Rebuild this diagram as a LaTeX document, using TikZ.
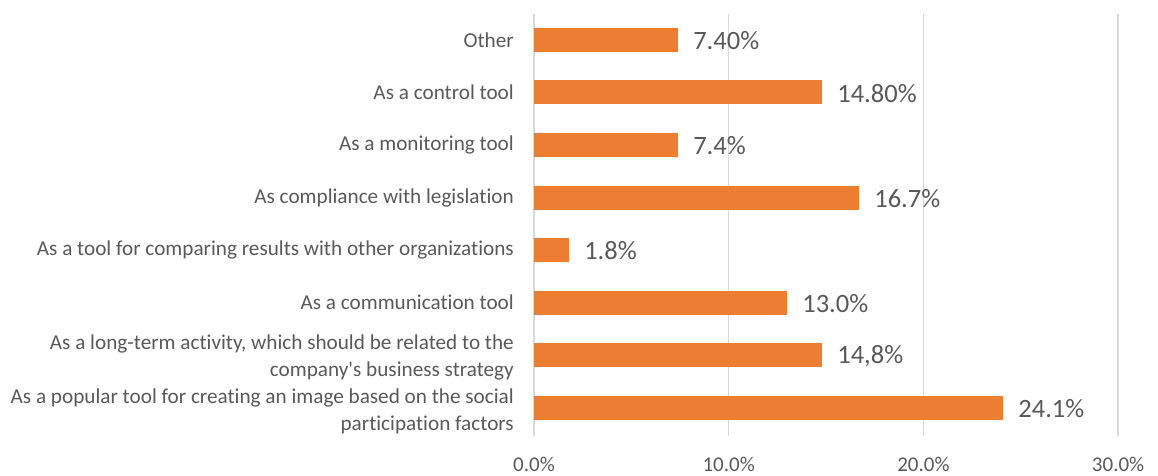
\documentclass[tikz,border=0pt]{standalone}
\usepackage{fontspec}
\setmainfont[Ligatures=NoCommon]{Carlito}
\newfontfamily\qfont[Ligatures=NoCommon]{Carlito}
\definecolor{barc}{HTML}{ED7D31}
\definecolor{gridc}{HTML}{D9D9D9}
\definecolor{txt}{HTML}{595959}
\begin{document}
\begin{tikzpicture}[x=1pt,y=-1pt,
  gridline/.style={draw=gridc,line width=1.5pt},
  barshape/.style={fill=barc,draw=none},
  vallab/.style={anchor=west,inner sep=0pt,text=txt,font=\qfont\fontsize{26.5}{31}\selectfont},
  catlab/.style={anchor=east,inner sep=0pt,text=txt,align=right,font=\qfont\fontsize{21.2}{27}\selectfont},
  axlab/.style={anchor=center,inner sep=0pt,text=txt,font=\qfont\fontsize{21}{25}\selectfont}]
\useasboundingbox (0,0) rectangle (1158,476);
% grid lines and axis labels
\foreach \p/\t [count=\k] in {0/0.0\%,10/10.0\%,20/20.0\%,30/30.0\%}{
  \coordinate (gt\k) at ({534+19.47*\p},14);
  \coordinate (gb\k) at ({534+19.47*\p},436);
  \draw[gridline] (gt\k) -- (gb\k);
  \node[axlab] (ax\k) at ({534+19.47*\p},464) {\t};
}
% bars
\foreach \i/\v/\t in {1/7.4/7.40\%,2/14.8/14.80\%,3/7.4/7.4\%,4/16.7/16.7\%,5/1.8/1.8\%,6/13.0/13.0\%,7/14.8/{14,8\%},8/24.1/24.1\%}{
  \pgfmathsetmacro{\c}{40+52.5*(\i-1)}
  \pgfmathsetmacro{\e}{534+19.47*\v}
  \path[barshape] (534,\c-12) rectangle (\e,\c+12);
  \node[vallab] (val\i) at (\e+15,\c+1) {\t};
}
% category labels
\node[catlab] (cat1) at (514,40) {Other};
\node[catlab] (cat2) at (514,92.5) {As a control tool};
\node[catlab] (cat3) at (514,145) {As a monitoring tool};
\node[catlab] (cat4) at (514,197.5) {As compliance with legislation};
\node[catlab] (cat5) at (514,250) {As a tool for comparing results with other organizations};
\node[catlab] (cat6) at (514,302.5) {As a communication tool};
\node[catlab] (cat7) at (514,357) {As a long-term activity, which should be related to the\\company's business strategy};
\node[catlab] (cat8) at (514,411) {As a popular tool for creating an image based on the social\\participation factors};
\end{tikzpicture}
\end{document}
